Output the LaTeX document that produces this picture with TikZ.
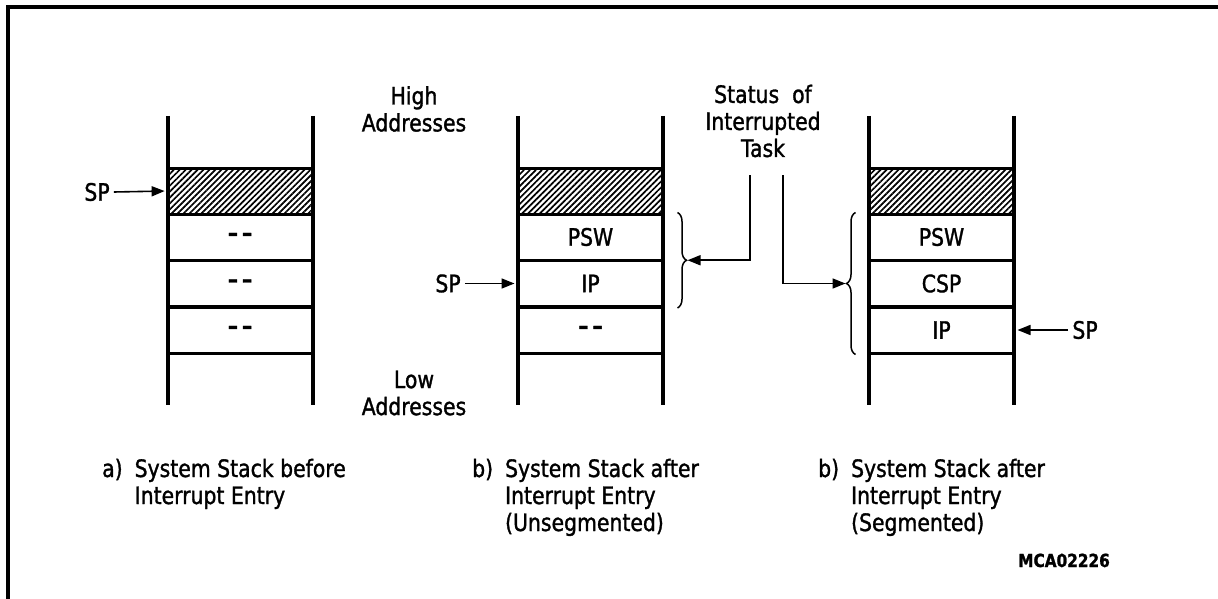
\documentclass[tikz,border=0pt]{standalone}
\usepackage{fontspec}
\setmainfont{DejaVu Sans}[FakeStretch=0.85,FakeBold=1.3]
\usetikzlibrary{arrows.meta,patterns.meta,decorations.pathreplacing}
\newcommand{\dsh}{\textbf{\textendash}\hspace{4pt}\textbf{\textendash}}
\begin{document}
\begin{tikzpicture}[x=1pt,y=-1pt,
  txt/.style={font=\fontsize{24}{27}\selectfont},
  cell/.style={draw,line width=3pt,minimum width=145pt,minimum height=46pt,inner sep=0pt,txt},
  hatched/.style={cell,pattern={Lines[angle=45,distance=4.2pt,line width=1.7pt]}},
  wall/.style={line width=4pt},
  lbl/.style={txt,inner sep=0pt,align=center},
  arr/.style={line width=1.6pt,-{Triangle[length=13pt,width=10pt]}},
  brc/.style={line width=1.5pt,decorate,decoration={brace,amplitude=9pt}},
  captn/.style={txt,inner sep=0pt,anchor=base west}
]
\useasboundingbox (0,0) rectangle (1218,599);
% frame
\draw[line width=4pt] (8,599) -- (8,7) -- (1218,7);

% stack a
\node[hatched] (a0) at (240,191) {};
\node[cell] (a1) at (240,237) {\dsh};
\node[cell] (a2) at (240,283.5) {\dsh};
\node[cell] (a3) at (240,330) {\dsh};
\draw[wall] (167.5,116) -- (167.5,405);
\draw[wall] (312.5,116) -- (312.5,405);

% stack b
\node[hatched] (b0) at (590.5,191) {};
\node[cell] (b1) at (590.5,237) {PSW};
\node[cell] (b2) at (590.5,283.5) {IP};
\node[cell] (b3) at (590.5,330) {\dsh};
\draw[wall] (518,116) -- (518,405);
\draw[wall] (663,116) -- (663,405);

% stack c
\node[hatched] (c0) at (941.5,191) {};
\node[cell] (c1) at (941.5,237) {PSW};
\node[cell] (c2) at (941.5,283.5) {CSP};
\node[cell] (c3) at (941.5,330) {IP};
\draw[wall] (869,116) -- (869,405);
\draw[wall] (1014,116) -- (1014,405);

% SP pointers
\node[lbl] (sp1) at (97,192) {SP};
\draw[arr,shorten >=2pt] ([xshift=4pt]sp1.east) -- (a0.west);
\node[lbl] (sp2) at (448,283.5) {SP};
\draw[arr,shorten >=2pt] ([xshift=4pt]sp2.east) -- (b2.west);
\node[lbl] (sp3) at (1085,330) {SP};
\draw[arr,shorten >=2pt] ([xshift=-4pt]sp3.west) -- (c3.east);

% address labels
\node[lbl] (hi) at (414,109) {High\\Addresses};
\node[lbl] (lo) at (414,393) {Low\\Addresses};

% status
\node[lbl] (st) at (763,121) {Status\ \ of\\Interrupted\\Task};
\coordinate (t2) at (750,175);
\coordinate (t3) at (783,175);
\draw[brc] ([xshift=13pt]b1.north east) -- ([xshift=13pt]b2.south east) coordinate[pos=0.5] (bm2);
\draw[brc] ([xshift=-12pt]c3.south west) -- ([xshift=-12pt]c1.north west) coordinate[pos=0.5] (bm3);
\coordinate (br2) at ([xshift=10pt]bm2);
\coordinate (br3) at ([xshift=-10pt]bm3);
\draw[arr] (t2) |- (br2);
\draw[arr] (t3) |- (br3);

% captions
\node[captn] (ca) at (102,477) {\begin{tabular}[t]{@{}l@{\hspace{12pt}}l@{}}a) & System Stack before\\ & Interrupt Entry\end{tabular}};
\node[captn] (cb) at (472,477) {\begin{tabular}[t]{@{}l@{\hspace{12pt}}l@{}}b) & System Stack after\\ & Interrupt Entry\\ & (Unsegmented)\end{tabular}};
\node[captn] (cc) at (818,477) {\begin{tabular}[t]{@{}l@{\hspace{12pt}}l@{}}b) & System Stack after\\ & Interrupt Entry\\ & (Segmented)\end{tabular}};

\node[font=\bfseries\fontsize{18}{20}\selectfont,inner sep=0pt,anchor=base east] (mca) at (1110,567) {MCA02226};
\end{tikzpicture}
\end{document}
